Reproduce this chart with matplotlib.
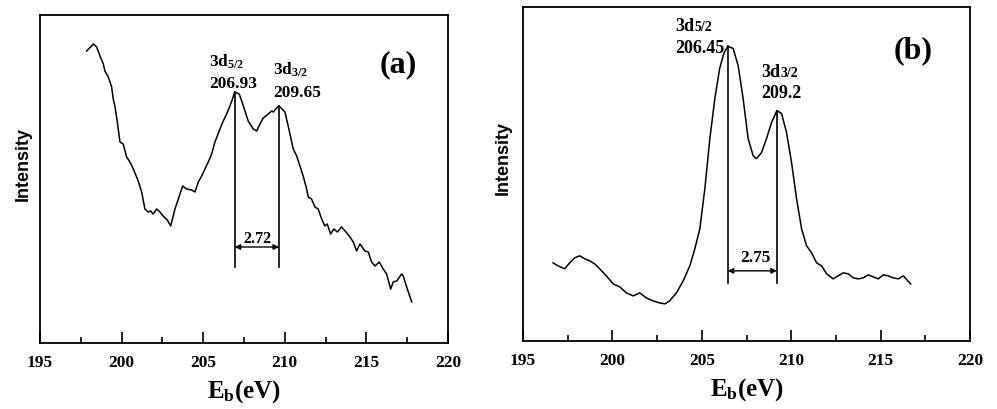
import numpy as np
import matplotlib.pyplot as plt

plt.rcParams['font.family'] = 'Liberation Serif'
plt.rcParams['font.weight'] = 'bold'
plt.rcParams['axes.labelweight'] = 'bold'
plt.rcParams['mathtext.fontset'] = 'custom'
plt.rcParams['mathtext.rm'] = 'Liberation Serif:bold'
plt.rcParams['mathtext.bf'] = 'Liberation Serif:bold'
plt.rcParams['mathtext.it'] = 'Liberation Serif:bold'

# espectro (a)
energia_a = np.array([
    197.86, 198.27, 198.47, 198.68, 198.88, 198.98, 199.19, 199.39, 199.49, 199.6,
    199.74, 199.9, 200.1, 200.31, 200.51, 200.72, 201.02, 201.23, 201.43, 201.64,
    201.78, 201.94, 202.15, 202.35, 202.55, 202.8, 203.01, 203.27, 203.54, 203.74,
    203.99, 204.29, 204.5, 204.7, 204.91, 205.05, 205.31, 205.52, 205.72, 206.03,
    206.23, 206.44, 206.64, 206.84, 206.93, 207.21, 207.4, 207.56, 207.76, 208.07,
    208.28, 208.48, 208.68, 208.99, 209.2, 209.3, 209.5, 209.65, 210.01, 210.21,
    210.52, 210.73, 210.93, 211.13, 211.34, 211.44, 211.64, 211.85, 212.05, 212.26,
    212.46, 212.6, 212.81, 213.01, 213.22, 213.48, 213.75, 213.99, 214.2, 214.4,
    214.61, 214.91, 215.12, 215.32, 215.53, 215.79, 216.03, 216.24, 216.49, 216.65,
    216.86, 217.16, 217.26, 217.47, 217.78])
intensidad_a = np.array([
    292, 299, 296, 287, 279, 272, 266, 256, 244, 236,
    221, 201, 199, 186, 181, 174, 162, 151, 134, 131,
    132, 129, 134, 131, 127, 123, 117, 134, 147, 157,
    154, 153, 151, 161, 167, 172, 181, 189, 201, 214,
    222, 229, 237, 246, 251, 249, 240, 232, 222, 214,
    212, 219, 225, 229, 232, 231, 235, 237, 231, 217,
    194, 187, 177, 167, 154, 146, 144, 136, 134, 124,
    117, 119, 109, 114, 111, 116, 111, 106, 101, 92,
    99, 92, 91, 81, 77, 81, 74, 69, 54, 61,
    62, 69, 67, 56, 41])

# espectro (b)
energia_b = np.array([
    196.68, 196.96, 197.33, 197.61, 197.89, 198.17, 198.45, 198.73, 199.0, 199.29,
    199.66, 200.04, 200.41, 200.78, 201.16, 201.53, 201.9, 202.28, 202.65, 202.93,
    203.2, 203.58, 203.96, 204.33, 204.61, 204.89, 205.17, 205.45, 205.73, 206.0,
    206.23, 206.45, 206.75, 207.03, 207.31, 207.59, 207.87, 208.06, 208.34, 208.62,
    208.9, 209.2, 209.46, 209.74, 210.02, 210.3, 210.58, 210.86, 211.14, 211.42,
    211.7, 211.98, 212.35, 212.63, 212.91, 213.19, 213.47, 213.75, 214.03, 214.31,
    214.59, 214.87, 215.15, 215.43, 215.71, 215.99, 216.27, 216.68])
intensidad_b = np.array([
    78, 75, 72, 78, 83, 85, 82, 80, 77, 72,
    65, 57, 54, 48, 45, 48, 43, 40, 38, 37,
    40, 48, 60, 75, 92, 112, 152, 202, 242, 272,
    287, 294, 292, 275, 242, 202, 185, 182, 188, 202,
    218, 230, 227, 208, 178, 142, 112, 95, 88, 78,
    75, 67, 62, 65, 68, 67, 63, 62, 63, 66,
    64, 62, 66, 65, 63, 62, 65, 57])

picos_a = [206.93, 209.65]
picos_b = [206.45, 209.2]
separacion_a = '2.72'
separacion_b = '2.75'

fig = plt.figure(figsize=(9.97, 4.10), dpi=100)
ax1 = fig.add_axes([0.0401, 0.161, 0.4092, 0.80])
ax2 = fig.add_axes([0.5246, 0.1659, 0.4483, 0.8146])


def preparar_ejes(ax, ymax, ylabel_x):
    ax.set_xlim(195, 220)
    ax.set_ylim(0, ymax)
    ax.set_xticks(np.arange(195, 221, 5))
    ax.set_xticks(np.arange(197.5, 220, 5), minor=True)
    ax.set_yticks([])
    ax.tick_params(axis='x', which='major', direction='in', length=8, width=1.2,
                   labelsize=12.5, pad=8)
    ax.tick_params(axis='x', which='minor', direction='in', length=4, width=1.2)
    for lab in ax.get_xticklabels():
        lab.set_fontweight('bold')
    for s in ax.spines.values():
        s.set_linewidth(1.3)
    ax.set_xlabel(r'E$_{\mathrm{b}}$(eV)', fontsize=18, fontweight='bold', labelpad=5)
    ax.set_ylabel('Intensity', family='Liberation Sans', fontweight='bold', fontsize=13)
    ax.yaxis.set_label_coords(ylabel_x, 0.55)


def marcar_picos(ax, x, y, picos, base, y_flecha, texto, x_texto, y_texto, fs):
    for p in picos:
        tope = np.interp(p, x, y)
        ax.plot([p, p], [base, tope], color='black', lw=1.2)
    ax.annotate('', xy=(picos[0], y_flecha), xytext=(picos[1], y_flecha),
                arrowprops=dict(arrowstyle='<|-|>', color='black', lw=1.0,
                                shrinkA=0, shrinkB=0, mutation_scale=8))
    ax.text(x_texto, y_texto, texto, ha='center', va='baseline', fontsize=fs)


# (a)
preparar_ejes(ax1, 328, -0.021)
ax1.plot(energia_a, intensidad_a, color='black', lw=1.1)
marcar_picos(ax1, energia_a, intensidad_a, picos_a, 76, 96, separacion_a, 208.3, 101, 11.5)
ax1.text(205.38, 277, r'3d$_{5/2}$', fontsize=12.5, va='baseline')
ax1.text(205.38, 256, f'{picos_a[0]:.2f}', fontsize=12.5, va='baseline')
ax1.text(209.3, 269, r'3d$_{3/2}$', fontsize=12.5, va='baseline')
ax1.text(209.3, 247, f'{picos_a[1]:.2f}', fontsize=12.5, va='baseline')
ax1.text(216.96, 272, '(a)', fontsize=23, ha='center', va='baseline')

# (b)
preparar_ejes(ax2, 333.3, -0.025)
ax2.plot(energia_b, intensidad_b, color='black', lw=1.1)
marcar_picos(ax2, energia_b, intensidad_b, picos_b, 58, 70, separacion_b, 208.02, 80, 12.5)
t1 = ax2.text(203.53, 310, '3d', fontsize=13, va='baseline')
ax2.annotate('5/2', xy=(1, 310), xycoords=(t1, 'data'), va='baseline', fontsize=10)
ax2.text(203.53, 288, f'{picos_b[0]:.2f}', fontsize=13, va='baseline')
t2 = ax2.text(208.34, 264, '3d', fontsize=13, va='baseline')
ax2.annotate('3/2', xy=(1, 264), xycoords=(t2, 'data'), va='baseline', fontsize=10)
ax2.text(208.34, 243, f'{picos_b[1]:.1f}', fontsize=13, va='baseline')
ax2.text(216.83, 283, '(b)', fontsize=23, ha='center', va='baseline')

fig.savefig('out.png', dpi=100)
